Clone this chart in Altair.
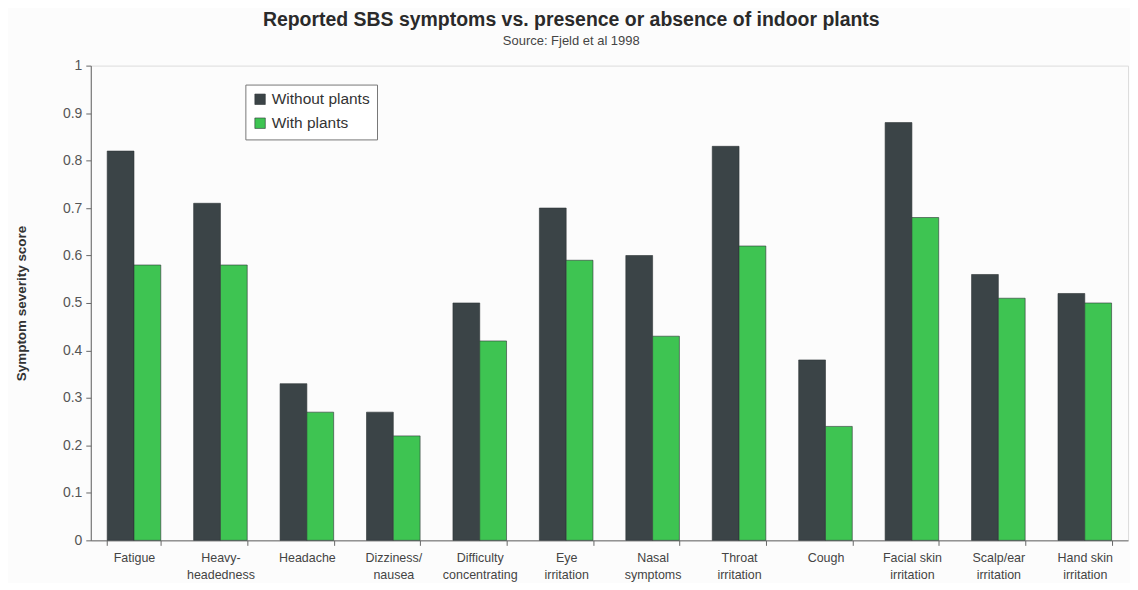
import altair as alt
import pandas as pd

categories = ["Fatigue", "Heavy-\nheadedness", "Headache", "Dizziness/\nnausea",
              "Difficulty\nconcentrating", "Eye\nirritation", "Nasal\nsymptoms",
              "Throat\nirritation", "Cough", "Facial skin\nirritation",
              "Scalp/ear\nirritation", "Hand skin\nirritation"]
without_plants = [0.82, 0.71, 0.33, 0.27, 0.50, 0.70, 0.60, 0.83, 0.38, 0.88, 0.56, 0.52]
with_plants = [0.58, 0.58, 0.27, 0.22, 0.42, 0.59, 0.43, 0.62, 0.24, 0.68, 0.51, 0.50]
series = ["Without plants", "With plants"]
colors = ["#3b4447", "#3ec452"]
y_ticks = [0, 0.1, 0.2, 0.3, 0.4, 0.5, 0.6, 0.7, 0.8, 0.9, 1.0]

rows = []
for c, a, b in zip(categories, without_plants, with_plants):
    rows.append({"symptom": c, "series": series[0], "score": a})
    rows.append({"symptom": c, "series": series[1], "score": b})
df = pd.DataFrame(rows)

FONT = "Liberation Sans, Arial, sans-serif"

chart = alt.Chart(df).mark_bar(stroke="#2e3436", strokeWidth=0.6).encode(
    x=alt.X("symptom:N", sort=categories,
            scale=alt.Scale(paddingInner=0.38, paddingOuter=0.19),
            axis=alt.Axis(title=None, labelAngle=0, tickBand="extent", tickSize=5,
                          labelExpr="split(datum.label, '\\n')",
                          labelFontSize=12.5, labelLineHeight=17, labelPadding=6,
                          labelColor="#444", labelFont=FONT,
                          domainColor="#666", tickColor="#666")),
    xOffset=alt.XOffset("series:N", sort=series, scale=alt.Scale(paddingInner=0)),
    y=alt.Y("score:Q", scale=alt.Scale(domain=[0, 1], nice=False),
            axis=alt.Axis(title="Symptom severity score", values=y_ticks, format="~g",
                          grid=False, tickSize=5, labelFontSize=14, labelColor="#555",
                          labelFont=FONT, labelPadding=4,
                          titleFont=FONT, titleFontSize=13.5, titleFontWeight="bold",
                          titleColor="#333", titlePadding=34,
                          domainColor="#666", tickColor="#666")),
    color=alt.Color("series:N", sort=series,
                    scale=alt.Scale(domain=series, range=colors),
                    legend=alt.Legend(title=None, orient="none", legendX=155, legendY=19,
                                      strokeColor="#777", fillColor="#ffffff",
                                      padding=7, symbolType="square", symbolSize=110,
                                      symbolStrokeColor="#2e3436", symbolStrokeWidth=0.6,
                                      labelFontSize=15.5, labelFont=FONT, labelColor="#333",
                                      rowPadding=7, labelOffset=4)),
).properties(
    width=1040, height=476,
    padding={"left": 83, "top": 57, "right": 2, "bottom": 42},
    autosize=alt.AutoSizeParams(type="none"),
    title=alt.TitleParams(
        text="Reported SBS symptoms vs. presence or absence of indoor plants",
        subtitle="Source: Fjeld et al 1998",
        anchor="middle", frame="bounds", offset=10,
        font=FONT, fontSize=19.5, fontWeight="bold", color="#2a2a2a",
        subtitleFont=FONT, subtitleFontSize=13, subtitleColor="#444",
        subtitlePadding=4),
).configure_view(stroke="#aaa").configure(background="#fcfcfc")

chart.save("out.html", embed_options={"renderer": "svg", "actions": False})
